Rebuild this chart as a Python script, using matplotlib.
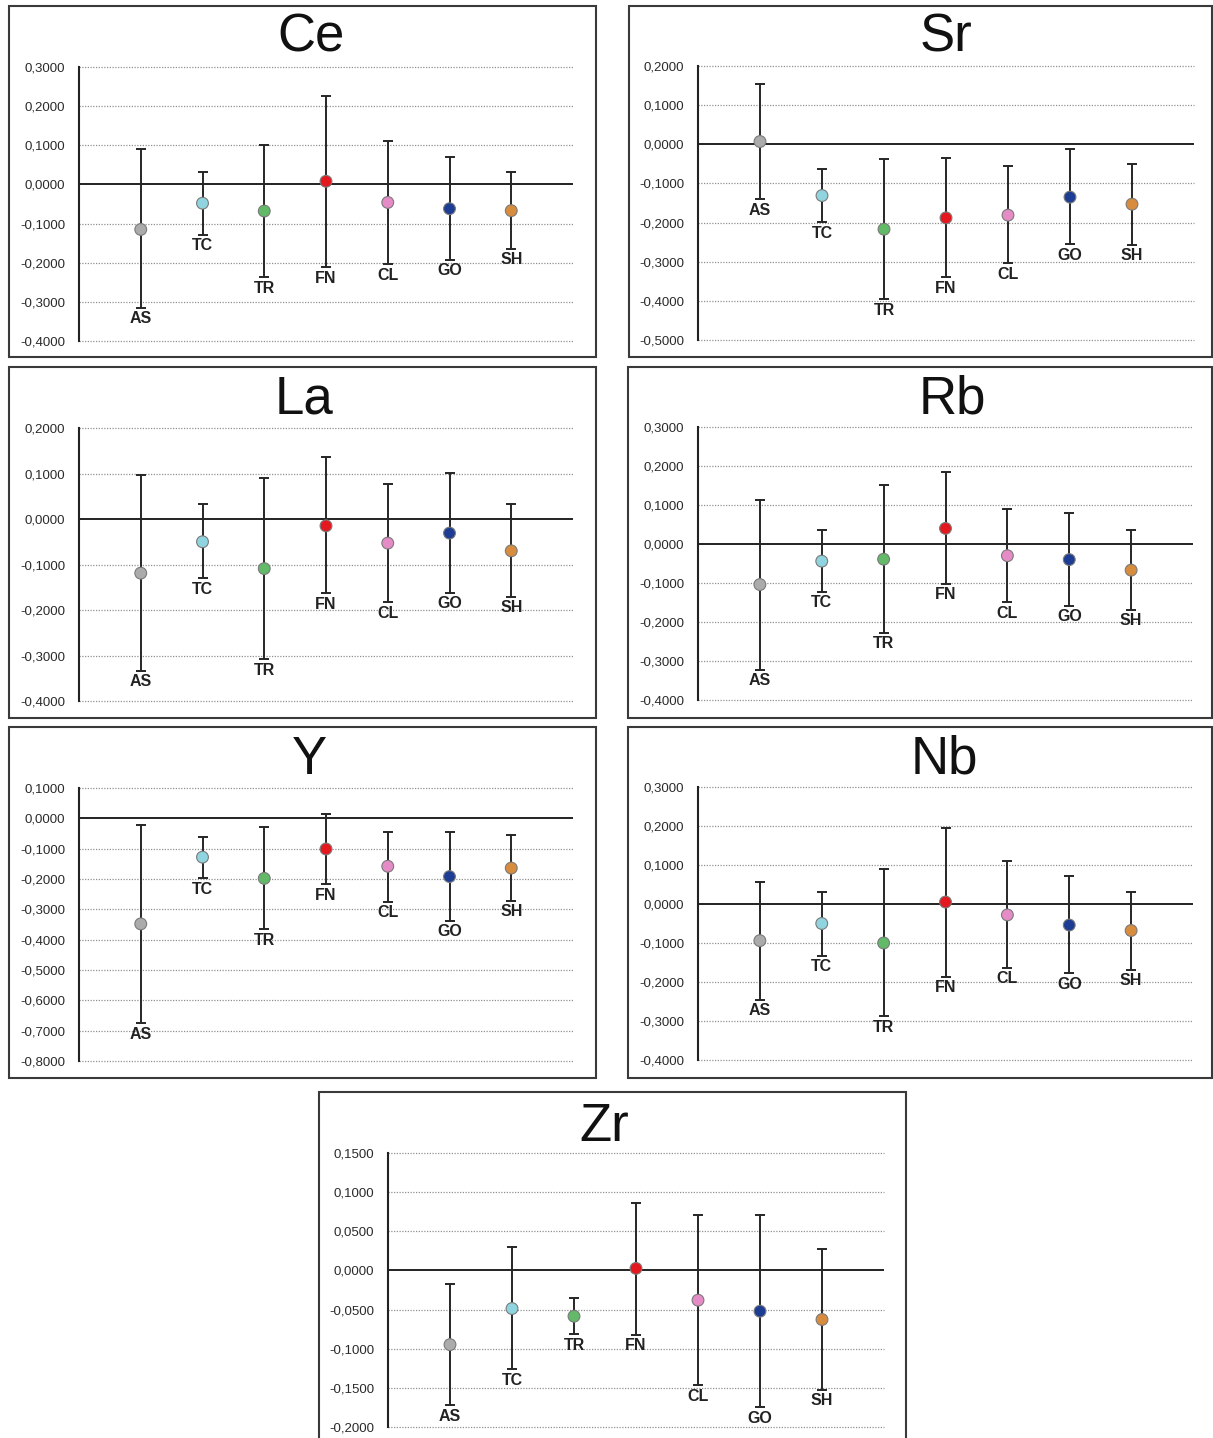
import matplotlib.pyplot as plt
from matplotlib.patches import Rectangle

plt.rcParams['font.family'] = ['Liberation Sans', 'DejaVu Sans']

# categories and marker colours
cats = ['AS', 'TC', 'TR', 'FN', 'CL', 'GO', 'SH']
cat_colors = ['#ababab', '#8fd4df', '#62b968', '#e3191f', '#e58bc6', '#1d3d94', '#d88c3e']

# mean, upper and lower ends of the bars
ce_mean = [-0.115, -0.048, -0.068, 0.008, -0.046, -0.062, -0.067]
ce_hi = [0.090, 0.033, 0.101, 0.225, 0.110, 0.069, 0.031]
ce_lo = [-0.315, -0.128, -0.237, -0.212, -0.204, -0.192, -0.164]

sr_mean = [0.007, -0.131, -0.217, -0.188, -0.181, -0.135, -0.153]
sr_hi = [0.153, -0.064, -0.038, -0.035, -0.055, -0.013, -0.051]
sr_lo = [-0.140, -0.199, -0.396, -0.340, -0.304, -0.255, -0.257]

la_mean = [-0.119, -0.050, -0.109, -0.015, -0.053, -0.031, -0.070]
la_hi = [0.097, 0.032, 0.091, 0.136, 0.078, 0.102, 0.032]
la_lo = [-0.333, -0.130, -0.308, -0.163, -0.183, -0.162, -0.171]

rb_mean = [-0.104, -0.044, -0.039, 0.040, -0.030, -0.040, -0.067]
rb_hi = [0.114, 0.035, 0.152, 0.185, 0.089, 0.080, 0.035]
rb_lo = [-0.323, -0.123, -0.228, -0.102, -0.149, -0.159, -0.169]

y_mean = [-0.348, -0.128, -0.198, -0.101, -0.158, -0.192, -0.164]
y_hi = [-0.022, -0.061, -0.030, 0.015, -0.044, -0.044, -0.056]
y_lo = [-0.675, -0.198, -0.365, -0.218, -0.275, -0.338, -0.271]

nb_mean = [-0.094, -0.050, -0.100, 0.005, -0.028, -0.054, -0.068]
nb_hi = [0.057, 0.032, 0.090, 0.196, 0.109, 0.073, 0.032]
nb_lo = [-0.246, -0.133, -0.288, -0.186, -0.163, -0.178, -0.168]

zr_mean = [-0.0948, -0.0487, -0.0585, 0.0026, -0.0380, -0.0521, -0.0627]
zr_hi = [-0.0171, 0.0302, -0.0355, 0.0866, 0.0712, 0.0704, 0.0273]
zr_lo = [-0.1725, -0.1264, -0.0816, -0.0820, -0.1469, -0.1750, -0.1523]

W, H = 1213, 1438
fig = plt.figure(figsize=(W / 100, H / 100), dpi=100)

# (title, mean, hi, lo, ymin, ymax, step, box px, axes px, title px)
panels = [
    ('Ce', ce_mean, ce_hi, ce_lo, -0.4, 0.3, 0.1, (9, 6, 596, 357), (79, 67, 573, 341), (311, 37)),
    ('Sr', sr_mean, sr_hi, sr_lo, -0.5, 0.2, 0.1, (629, 6, 1212, 357), (698, 66, 1194, 340), (946, 38)),
    ('La', la_mean, la_hi, la_lo, -0.4, 0.2, 0.1, (9, 367, 596, 718), (79, 428, 573, 701), (304, 399)),
    ('Rb', rb_mean, rb_hi, rb_lo, -0.4, 0.3, 0.1, (628, 367, 1212, 718), (698, 427, 1193, 700), (952, 400)),
    ('Y', y_mean, y_hi, y_lo, -0.8, 0.1, 0.1, (9, 727, 596, 1078), (79, 788, 573, 1061), (309, 760)),
    ('Nb', nb_mean, nb_hi, nb_lo, -0.4, 0.3, 0.1, (628, 727, 1212, 1078), (698, 787, 1193, 1060), (944, 760)),
    ('Zr', zr_mean, zr_hi, zr_lo, -0.2, 0.15, 0.05, (319, 1092, 906, 1445), (388, 1153, 884, 1427), (604, 1127)),
]

xs = list(range(1, len(cats) + 1))

for title, mean, hi, lo, ymin, ymax, step, box, area, tpos in panels:
    bl, bt, br, bb = box
    fig.patches.append(Rectangle((bl / W, 1 - bb / H), (br - bl) / W, (bb - bt) / H,
                                 transform=fig.transFigure, fill=False,
                                 edgecolor='#3a3a3a', lw=1.5))
    fig.text(tpos[0] / W, 1 - tpos[1] / H, title, fontsize=38, ha='center', va='center', color='#111')

    l, t, r, b = area
    ax = fig.add_axes([l / W, 1 - b / H, (r - l) / W, (b - t) / H])
    ax.set_xlim(0, 8)
    ax.set_ylim(ymin, ymax)

    n = int(round((ymax - ymin) / step))
    ticks = [ymin + i * step for i in range(n + 1)]
    ax.set_yticks(ticks)
    ax.set_yticklabels([f'{v:.4f}'.replace('.', ',').replace('-0,0000', '0,0000') for v in ticks])
    ax.tick_params(axis='y', length=0, pad=10, labelsize=9.5, labelcolor='#2a2a2a')
    ax.set_xticks([])
    for v in ticks:
        if abs(v) > 1e-9:
            ax.axhline(v, color='#909090', lw=0.9, ls=(0, (1, 1.2)), zorder=0, clip_on=False)
    ax.axhline(0, color='#222', lw=1.4, zorder=1)

    for s in ['top', 'right', 'bottom']:
        ax.spines[s].set_visible(False)
    ax.spines['left'].set_color('#222')
    ax.spines['left'].set_linewidth(1.5)

    err = [[m - lo_ for m, lo_ in zip(mean, lo)], [h - m for m, h in zip(mean, hi)]]
    ax.errorbar(xs, mean, yerr=err, fmt='none', ecolor='#262626', elinewidth=1.4,
                capsize=3.5, capthick=1.4, zorder=2)
    ax.scatter(xs, mean, s=72, c=cat_colors, edgecolors='#7a7a7a', linewidths=0.8, zorder=3)

    for x, lo_, c in zip(xs, lo, cats):
        ax.annotate(c, (x, lo_), xytext=(0, -2.5), textcoords='offset points',
                    ha='center', va='top', fontsize=11.5, fontweight='bold', color='#222')

fig.savefig('out.png', dpi=100)
